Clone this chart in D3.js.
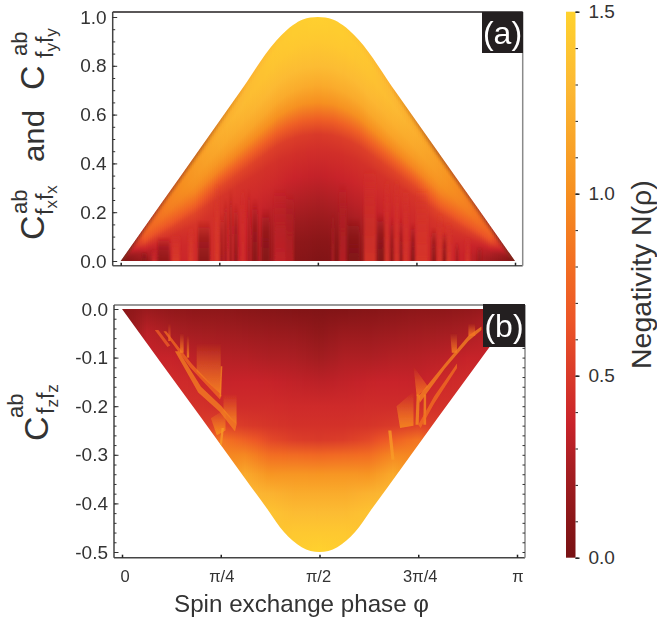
<!DOCTYPE html>
<html>
<head>
<meta charset="utf-8">
<script src="https://d3js.org/d3.v7.min.js"></script>
<style>
  html, body { margin: 0; background: #fff; }
  text { font-family: "Liberation Sans", Arial, sans-serif; fill: #333; }
</style>
</head>
<body>
<div id="chart"></div>
<script>
// Colour bar: negativity values and the colours
const colorValues = [0, 0.1, 0.25, 0.37, 0.5, 0.65, 0.8, 1.0, 1.15, 1.3, 1.5];
const colorRange = ["#781214", "#8a1618", "#a81e22", "#c9232a", "#d93a29", "#ec5527", "#f26d22", "#f68f20", "#f9a529", "#fcb933", "#ffd22e"];
const colorTicks = [0, 0.5, 1.0, 1.5];
const colorMinor = d3.range(0, 16).map(d => d / 10);

// Panel outlines, phi in units of pi
const edgePhiA = [0, 0.1, 0.2, 0.3, 0.396, 0.42, 0.437, 0.462, 0.5, 0.538, 0.563, 0.58, 0.604, 0.7, 0.8, 0.9, 1];
const edgeA = [0, 0.229, 0.458, 0.687, 0.906, 0.945, 0.967, 0.99, 1, 0.99, 0.967, 0.945, 0.906, 0.687, 0.458, 0.229, 0];
const edgePhiB = [0, 0.1, 0.2, 0.327, 0.37, 0.41, 0.455, 0.5, 0.545, 0.59, 0.63, 0.673, 0.8, 0.9, 1];
const edgeB = [0, -0.112, -0.223, -0.366, -0.414, -0.459, -0.49, -0.5, -0.49, -0.459, -0.414, -0.366, -0.223, -0.112, 0];

// Negativity by column (phi). Panel (a) levels are shares of the column height, panel (b) levels are C values
const gridPhi = d3.range(0, 17).map(d => d / 16);
const levelsA = [0, 0.08, 0.16, 0.25, 0.35, 0.45, 0.52, 0.58, 0.65, 0.72, 0.8, 0.9, 0.96, 1];
const gridA = [
  [.05, .05, .05, .05, .05, .05, .05, .05, .05, .05, .05, .05, .05, .05],
  [.18, .22, .26, .3, .38, .48, .56, .62, .66, .7, .72, .68, .6, .45],
  [.34, .36, .38, .4, .45, .54, .64, .72, .8, .88, .92, .92, .85, .7],
  [.42, .42, .42, .44, .47, .56, .7, .82, .94, 1.02, 1.06, 1.08, 1.02, .88],
  [.42, .42, .42, .43, .44, .47, .57, .72, .94, 1.07, 1.17, 1.22, 1.18, 1.05],
  [.36, .36, .38, .4, .42, .46, .55, .72, .97, 1.14, 1.24, 1.32, 1.3, 1.22],
  [.22, .24, .28, .34, .41, .45, .53, .72, 1.0, 1.18, 1.3, 1.38, 1.4, 1.35],
  [.1, .13, .2, .29, .37, .44, .52, .72, 1.02, 1.2, 1.32, 1.42, 1.45, 1.45],
  [.05, .1, .17, .26, .35, .43, .5, .7, 1.0, 1.18, 1.32, 1.42, 1.46, 1.48],
  [.08, .12, .2, .29, .37, .44, .52, .72, 1.02, 1.2, 1.32, 1.42, 1.45, 1.45],
  [.16, .2, .26, .33, .4, .45, .53, .72, 1.0, 1.18, 1.3, 1.38, 1.4, 1.35],
  [.28, .3, .34, .38, .42, .46, .55, .72, .97, 1.14, 1.24, 1.32, 1.3, 1.22],
  [.36, .37, .38, .4, .43, .47, .57, .72, .94, 1.07, 1.17, 1.22, 1.18, 1.05],
  [.42, .42, .42, .44, .47, .56, .7, .82, .94, 1.02, 1.06, 1.08, 1.02, .88],
  [.36, .36, .38, .4, .45, .54, .64, .72, .8, .88, .92, .92, .85, .7],
  [.2, .22, .26, .3, .38, .48, .56, .62, .66, .7, .72, .68, .6, .45],
  [.05, .05, .05, .05, .05, .05, .05, .05, .05, .05, .05, .05, .05, .05]
];
const levelsB = [0, -0.05, -0.1, -0.15, -0.2, -0.24, -0.27, -0.3, -0.34, -0.38, -0.42, -0.46, -0.5];
const gridB = [
  [.1, .1, .1, .1, .1, .1, .1, .1, .1, .1, .1, .1, .1],
  [.18, .32, .36, .38, .4, .4, .4, .4, .4, .4, .4, .4, .4],
  [.14, .26, .36, .42, .44, .44, .44, .44, .44, .44, .44, .44, .44],
  [.12, .23, .32, .4, .45, .5, .55, .55, .55, .55, .55, .55, .55],
  [.12, .22, .3, .36, .42, .55, .85, .95, 1.0, 1.0, 1.0, 1.0, 1.0],
  [.1, .2, .29, .37, .42, .5, .72, .95, 1.18, 1.3, 1.3, 1.3, 1.3],
  [.08, .18, .27, .36, .42, .47, .58, .8, 1.04, 1.25, 1.38, 1.38, 1.38],
  [.06, .17, .26, .34, .41, .45, .52, .78, 1.05, 1.2, 1.32, 1.42, 1.46],
  [.05, .13, .22, .32, .41, .45, .5, .76, 1.04, 1.2, 1.32, 1.42, 1.5],
  [.06, .18, .27, .34, .41, .45, .52, .78, 1.05, 1.2, 1.32, 1.42, 1.46],
  [.08, .18, .27, .36, .42, .47, .58, .8, 1.04, 1.25, 1.38, 1.38, 1.38],
  [.1, .2, .29, .37, .42, .5, .72, .95, 1.18, 1.3, 1.3, 1.3, 1.3],
  [.12, .22, .3, .36, .42, .55, .85, .95, 1.0, 1.0, 1.0, 1.0, 1.0],
  [.12, .23, .32, .4, .45, .5, .55, .55, .55, .55, .55, .55, .55],
  [.14, .26, .36, .42, .44, .44, .44, .44, .44, .44, .44, .44, .44],
  [.18, .32, .36, .38, .4, .4, .4, .4, .4, .4, .4, .4, .4],
  [.1, .1, .1, .1, .1, .1, .1, .1, .1, .1, .1, .1, .1]
];

// Vertical streaks along the bottom of panel (a)
const streakPhi = [.06, .085, .109, .14, .178, .211, .244, .256, .266, .279, .292, .31, .325, .34, .368, .404, .429, .538, .563, .591, .632, .66, .675, .688, .70, .711, .723, .741, .764, .794, .81, .822, .832, .853, .88, .91];
const streakWidth = [.012, .012, .03, .02, .012, .03, .01, .006, .006, .005, .01, .008, .005, .015, .02, .03, .02, .006, .018, .03, .03, .018, .012, .006, .012, .006, .014, .01, .03, .012, .012, .012, .012, .006, .012, .01];
const streakTop = [.04, .05, .1, .11, .14, .17, .32, .2, .26, .3, .24, .3, .3, .26, .22, .3, .28, .2, .32, .18, .38, .2, .34, .18, .34, .18, .3, .16, .3, .14, .2, .12, .16, .08, .1, .06];
const streakN = [.12, .4, .14, .5, .5, .1, .5, .14, .16, .12, .14, .44, .2, .1, .07, .34, .3, .28, .3, .06, .46, .07, .46, .1, .46, .12, .46, .1, .48, .12, .46, .12, .48, .18, .46, .2];

// Orange patches in panel (b): corner points as [phi, C], their strength and whether they fade upwards
const patchesB = [
  [[.083, -.043], [.092, -.043], [.122, -.075], [.115, -.078]],
  [[.105, -.046], [.112, -.046], [.176, -.112], [.252, -.178], [.248, -.186], [.172, -.12]],
  [[.134, -.087], [.144, -.087], [.2, -.16], [.252, -.2], [.29, -.238], [.286, -.252], [.248, -.212], [.193, -.172]],
  [[.117, -.03], [.123, -.03], [.123, -.066], [.117, -.066]],
  [[.147, -.05], [.156, -.05], [.156, -.09], [.147, -.09]],
  [[.164, -.055], [.17, -.055], [.17, -.1], [.164, -.1]],
  [[.189, -.07], [.25, -.07], [.25, -.176], [.189, -.128]],
  [[.25, -.118], [.254, -.118], [.251, -.18], [.247, -.18]],
  [[.257, -.175], [.29, -.175], [.29, -.238], [.257, -.21]],
  [[.225, -.225], [.262, -.205], [.262, -.25], [.24, -.26]],
  [[.252, -.245], [.258, -.245], [.246, -.33], [.241, -.33]],
  [[.738, -.118], [.738, -.118], [.775, -.16], [.746, -.18]],
  [[.695, -.2], [.738, -.17], [.738, -.24], [.704, -.245]],
  [[.746, -.176], [.754, -.176], [.751, -.238], [.743, -.238]],
  [[.764, -.176], [.77, -.176], [.77, -.238], [.763, -.238]],
  [[.75, -.18], [.818, -.112], [.877, -.055], [.91, -.036], [.91, -.043], [.877, -.066], [.818, -.122], [.754, -.193]],
  [[.75, -.238], [.79, -.18], [.848, -.112], [.848, -.122], [.79, -.195], [.756, -.245]],
  [[.831, -.05], [.848, -.05], [.848, -.09], [.835, -.09]],
  [[.877, -.03], [.894, -.03], [.894, -.055], [.877, -.055]],
  [[.674, -.25], [.682, -.25], [.69, -.31], [.682, -.31]]
];
const patchN = [.72, .8, .92, .75, .9, .9, .95, .95, .95, 1.0, 1.1, .85, .95, 1.0, 1.0, .95, .82, .9, .85, 1.1];
const patchFade = [0, 0, 0, 1, 1, 1, 1, 0, 1, 1, 0, 1, 1, 0, 0, 0, 0, 1, 1, 0];

// Axis ticks
const phiTicks = [0, 0.25, 0.5, 0.75, 1];
const phiLabels = ["0", "π/4", "π/2", "3π/4", "π"];
const phiLabelShift = [3, 1, -1, 2, 1];
const yTicksA = [0, 0.2, 0.4, 0.6, 0.8, 1.0];
const yMinorA = d3.range(0, 21).map(d => d * 0.05);
const yTicksB = [0, -0.1, -0.2, -0.3, -0.4, -0.5];
const yMinorB = d3.range(0, 26).map(d => -d * 0.02);

const svg = d3.select("#chart").append("svg")
  .attr("width", 657).attr("height", 621)
  .style("display", "block");
const defs = svg.append("defs");

const color = d3.scaleLinear().domain(colorValues).range(colorRange).clamp(true);

defs.append("filter").attr("id", "soft").attr("filterUnits", "userSpaceOnUse")
  .attr("x", 100).attr("y", 0).attr("width", 440).attr("height", 280)
  .append("feGaussianBlur").attr("stdDeviation", "1.1 0.5");
defs.append("filter").attr("id", "softer").attr("filterUnits", "userSpaceOnUse")
  .attr("x", 100).attr("y", 300).attr("width", 440).attr("height", 270)
  .append("feGaussianBlur").attr("stdDeviation", "0.7");
defs.append("filter").attr("id", "edge-blur").attr("filterUnits", "userSpaceOnUse")
  .attr("x", 100).attr("y", 0).attr("width", 440).attr("height", 280)
  .append("feGaussianBlur").attr("stdDeviation", "1.2");

// Draws one heat panel as thin vertical columns, each with its own gradient.
// spanOf gives the C value that the last level of a column stands for.
function drawHeat(name, x, y, edgePhi, edge, levels, grid, spanOf) {
  const edgeAt = d3.scaleLinear().domain(edgePhi).range(edge);
  const peak = edge[edge.length >> 1];
  const rows = levels.map((_, i) => d3.scaleLinear().domain(gridPhi).range(grid.map(c => c[i])));
  const area = d3.area().x(d => x(d[0])).y0(y(0)).y1(d => y(d[1])).curve(d3.curveMonotoneX);

  defs.append("clipPath").attr("id", "clip-" + name)
    .append("path").attr("d", area(edgePhi.map((p, i) => [p, edge[i]])));

  const columns = d3.range(Math.floor(x(0)), Math.ceil(x(1)), 2).map(px => {
    const phi = Math.min(1, Math.max(0, x.invert(px + 1)));
    return {px, phi, top: spanOf(edgeAt(phi))};
  });

  defs.selectAll(null).data(columns).enter().append("linearGradient")
    .attr("id", d => `${name}-col-${d.px}`)
    .attr("gradientUnits", "userSpaceOnUse")
    .attr("x1", 0).attr("x2", 0)
    .attr("y1", y(0)).attr("y2", d => y(d.top))
    .selectAll("stop").data(d => levels.map((l, i) => ({l, n: rows[i](d.phi)})))
    .enter().append("stop")
    .attr("offset", d => Math.abs(d.l) / Math.abs(levels[levels.length - 1]))
    .attr("stop-color", d => color(d.n));

  const g = svg.append("g").attr("clip-path", `url(#clip-${name})`);
  g.selectAll("rect").data(columns).enter().append("rect")
    .attr("x", d => d.px).attr("width", 2)
    .attr("y", Math.min(y(0), y(peak)) - 2)
    .attr("height", Math.abs(y(0) - y(peak)) + 4)
    .attr("shape-rendering", "crispEdges")
    .attr("fill", d => `url(#${name}-col-${d.px})`);
  return g;
}

// ---------- panel (a) ----------
const xA = d3.scaleLinear().domain([0, 1]).range([120.7, 515]);
const yA = d3.scaleLinear().domain([0, 1]).range([261, 17]);
const heatA = drawHeat("a", xA, yA, edgePhiA, edgeA, levelsA, gridA, c => Math.max(c, 0.006));

const streaks = streakPhi.map((p, i) => ({p, w: streakWidth[i], top: streakTop[i], n: streakN[i], i}));
const fades = defs.selectAll(null).data(streaks).enter().append("linearGradient")
  .attr("id", d => "streak-" + d.i)
  .attr("x1", 0).attr("y1", 1).attr("x2", 0).attr("y2", 0);
fades.append("stop").attr("offset", 0).attr("stop-color", d => color(d.n)).attr("stop-opacity", 0.95);
fades.append("stop").attr("offset", 0.55).attr("stop-color", d => color(d.n)).attr("stop-opacity", 0.6);
fades.append("stop").attr("offset", 1).attr("stop-color", d => color(d.n)).attr("stop-opacity", 0);

heatA.append("g").attr("filter", "url(#soft)")
  .selectAll("rect").data(streaks).enter().append("rect")
  .attr("x", d => xA(d.p - d.w / 2))
  .attr("width", d => xA(d.w) - xA(0))
  .attr("y", d => yA(d.top))
  .attr("height", d => yA(0) - yA(d.top))
  .attr("fill", d => `url(#streak-${d.i})`);

// brownish shading along the slanted sides of panel (a)
const edgeShade = defs.append("linearGradient").attr("id", "edge-shade")
  .attr("gradientUnits", "userSpaceOnUse")
  .attr("x1", xA(0)).attr("x2", xA(1)).attr("y1", 0).attr("y2", 0);
[[0, 0.4], [0.2, 0.32], [0.32, 0], [0.68, 0], [0.8, 0.32], [1, 0.4]].forEach(s => {
  edgeShade.append("stop").attr("offset", s[0]).attr("stop-color", "#6b3a20").attr("stop-opacity", s[1]);
});
heatA.append("path")
  .attr("d", d3.line().x(d => xA(d[0])).y(d => yA(d[1])).curve(d3.curveMonotoneX)(edgePhiA.map((p, i) => [p, edgeA[i]])))
  .attr("fill", "none").attr("stroke", "url(#edge-shade)").attr("stroke-width", 5)
  .attr("filter", "url(#edge-blur)");

// ---------- panel (b) ----------
const xB = d3.scaleLinear().domain([0, 1]).range([122, 517]);
const yB = d3.scaleLinear().domain([0, -0.5]).range([309, 552]);
const heatB = drawHeat("b", xB, yB, edgePhiB, edgeB, levelsB, gridB, () => -0.5);

const patchFades = defs.selectAll(null).data(patchN).enter().append("linearGradient")
  .attr("id", (d, i) => "patch-" + i)
  .attr("x1", 0).attr("y1", 1).attr("x2", 0).attr("y2", 0);
patchFades.append("stop").attr("offset", 0).attr("stop-color", d => color(d)).attr("stop-opacity", 0.9);
patchFades.append("stop").attr("offset", 1).attr("stop-color", d => color(d)).attr("stop-opacity", 0);

heatB.append("g").attr("filter", "url(#softer)")
  .selectAll("polygon").data(patchesB).enter().append("polygon")
  .attr("points", d => d.map(c => [xB(c[0]), yB(c[1])].join(",")).join(" "))
  .attr("fill", (d, i) => patchFade[i] ? `url(#patch-${i})` : color(patchN[i]))
  .attr("opacity", (d, i) => patchFade[i] ? 1 : 0.75);

// ---------- frames and axes ----------
function frame(x0, y0, x1, y1, top, bottom) {
  const g = svg.append("g").attr("fill", "none");
  g.append("line").attr("x1", x0).attr("x2", x1).attr("y1", y0).attr("y2", y0).attr("stroke", top.c).attr("stroke-width", top.w);
  g.append("line").attr("x1", x0).attr("x2", x1).attr("y1", y1).attr("y2", y1).attr("stroke", bottom.c).attr("stroke-width", bottom.w);
  g.append("line").attr("x1", x0).attr("x2", x0).attr("y1", y0).attr("y2", y1).attr("stroke", "#444").attr("stroke-width", 1.5);
  g.append("line").attr("x1", x1).attr("x2", x1).attr("y1", y0).attr("y2", y1).attr("stroke", "#8a8a8a").attr("stroke-width", 1.5);
}
frame(112.7, 12, 522.7, 265.7, {c: "#231f20", w: 1.6}, {c: "#555", w: 1.5});
frame(114, 305, 525, 557.7, {c: "#777", w: 1.5}, {c: "#444", w: 1.5});

function yAxis(left, y, major, minor, fmt, showRight, right) {
  const draw = g => {
    g.selectAll(".domain").remove();
    g.selectAll("line").attr("stroke", "#333").attr("stroke-width", 1);
  };
  svg.append("g").attr("transform", `translate(${left},0)`)
    .call(d3.axisRight(y).tickValues(minor).tickSize(2.5).tickFormat(""))
    .call(draw);
  const g = svg.append("g").attr("transform", `translate(${left},0)`)
    .call(d3.axisLeft(y).tickValues(major).tickSize(-4.5).tickPadding(6).tickFormat(fmt))
    .call(draw);
  g.selectAll("text").attr("font-size", 19).attr("fill", "#333");
  if (showRight) {
    svg.append("g").attr("transform", `translate(${right},0)`)
      .call(d3.axisLeft(y).tickValues(minor).tickSize(2.5).tickFormat(""))
      .call(draw);
  }
}
yAxis(112.7, yA, yTicksA, yMinorA, d3.format(".1f"), false);
yAxis(114, yB, yTicksB, yMinorB, d => d3.format(".1f")(d).replace("−", "-"), true, 525);

function xAxis(y0, x, labels) {
  const g = svg.append("g").attr("transform", `translate(0,${y0})`)
    .call(d3.axisTop(x).tickValues(phiTicks).tickSize(3).tickFormat(""));
  g.select(".domain").remove();
  g.selectAll("line").attr("stroke", "#222").attr("stroke-width", 1.5);
  if (labels) {
    svg.append("g").selectAll("text").data(phiTicks).enter().append("text")
      .attr("x", (d, i) => x(d) + phiLabelShift[i])
      .attr("y", 581.5)
      .attr("text-anchor", "middle")
      .attr("font-size", 16.5)
      .text((d, i) => labels[i]);
  }
}
xAxis(265.7, xA);
xAxis(557.7, xB, phiLabels);

svg.append("text").attr("x", 174).attr("y", 611.5).attr("font-size", 24.2).text("Spin exchange phase φ");

// Panel tags
[["(a)", 482, 12, 41, 41], ["(b)", 483, 304, 42, 43]].forEach(t => {
  svg.append("rect").attr("x", t[1]).attr("y", t[2]).attr("width", t[3]).attr("height", t[4]).attr("fill", "#231f20");
  svg.append("text").attr("x", t[1] + t[3] / 2).attr("y", t[2] + t[4] / 2 + 11)
    .attr("text-anchor", "middle").attr("font-size", 32).style("fill", "#fff").text(t[0]);
});

// C^ab_ff labels, rotated
function corr(px, py, s1, s2, abX, abY, subX, subY) {
  const g = svg.append("g").attr("transform", `translate(${px},${py}) rotate(-90)`);
  g.append("text").attr("font-size", 34).text("C");
  g.append("text").attr("x", abX).attr("y", abY).attr("font-size", 22).text("ab");
  const t = g.append("text").attr("x", subX).attr("y", subY).attr("font-size", 23);
  t.append("tspan").text("f");
  t.append("tspan").attr("font-size", 17).attr("dy", 4).text(s1);
  t.append("tspan").attr("dy", -4).text("f");
  t.append("tspan").attr("font-size", 17).attr("dy", 4).text(s2);
}
corr(44, 240, "x", "x", 26, -17, 25, 9);
corr(44, 90, "y", "y", 34, -17, 32, 9);
corr(48, 441, "z", "z", 23, -25, 27, 6);
svg.append("text").attr("transform", "translate(44,162) rotate(-90)")
  .attr("font-size", 29).attr("textLength", 52).attr("lengthAdjust", "spacingAndGlyphs").text("and");

// ---------- colour bar ----------
const yBar = d3.scaleLinear().domain([0, 1.5]).range([557.7, 11.7]);
const barGrad = defs.append("linearGradient").attr("id", "bar")
  .attr("gradientUnits", "userSpaceOnUse")
  .attr("x1", 0).attr("x2", 0).attr("y1", yBar(0)).attr("y2", yBar(1.5));
barGrad.selectAll("stop").data(colorValues).enter().append("stop")
  .attr("offset", d => d / 1.5).attr("stop-color", d => color(d));
svg.append("rect").attr("x", 566).attr("width", 9.5)
  .attr("y", yBar(1.5)).attr("height", yBar(0) - yBar(1.5))
  .attr("fill", "url(#bar)");

const barMinor = svg.append("g").attr("transform", "translate(575.5,0)")
  .call(d3.axisRight(yBar).tickValues(colorMinor).tickSize(2.5).tickFormat(""));
barMinor.select(".domain").remove();
barMinor.selectAll("line").attr("stroke", "#222");
const barMajor = svg.append("g").attr("transform", "translate(575.5,0)")
  .call(d3.axisRight(yBar).tickValues(colorTicks).tickSize(4).tickPadding(9).tickFormat(d3.format(".1f")));
barMajor.select(".domain").remove();
barMajor.selectAll("line").attr("stroke", "#222").attr("stroke-width", 1.5);
barMajor.selectAll("text").attr("font-size", 19).attr("fill", "#333");

svg.append("text").attr("transform", "translate(651,369) rotate(-90)").attr("font-size", 28.5).text("Negativity N(ρ)");
</script>
</body>
</html>
